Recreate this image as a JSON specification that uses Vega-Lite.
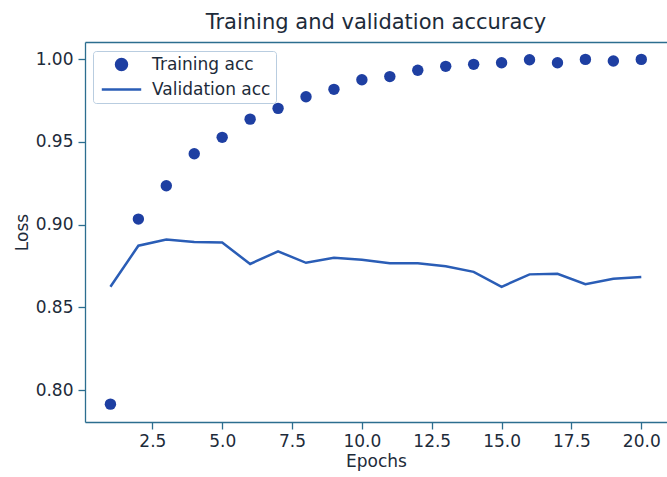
{
  "$schema": "https://vega.github.io/schema/vega-lite/v6.json",
  "autosize": {"type": "none"},
  "padding": {"left": 85, "top": 42, "right": 0, "bottom": 55},
  "width": 582,
  "height": 380,
  "background": "white",
  "config": {
    "view": {"stroke": null},
    "font": "DejaVu Sans",
    "axis": {
      "domainColor": "#2c6e8f",
      "domainWidth": 1.3,
      "tickColor": "#2c6e8f",
      "tickWidth": 1.3,
      "tickSize": 7,
      "grid": false,
      "labelFont": "DejaVu Sans",
      "labelFontSize": 17,
      "labelColor": "#1d2b3a",
      "titleFont": "DejaVu Sans",
      "titleFontSize": 17,
      "titleFontWeight": "normal",
      "titleColor": "#1d2b3a"
    }
  },
  "title": {
    "text": "Training and validation accuracy",
    "font": "DejaVu Sans",
    "fontSize": 21,
    "fontWeight": "normal",
    "color": "#1d2b3a",
    "anchor": "middle",
    "offset": 9
  },
  "datasets": {
    "train": [
      {"epoch": 1, "value": 0.7915, "series": "Training acc"},
      {"epoch": 2, "value": 0.9033, "series": "Training acc"},
      {"epoch": 3, "value": 0.9234, "series": "Training acc"},
      {"epoch": 4, "value": 0.9428, "series": "Training acc"},
      {"epoch": 5, "value": 0.9527, "series": "Training acc"},
      {"epoch": 6, "value": 0.9637, "series": "Training acc"},
      {"epoch": 7, "value": 0.9702, "series": "Training acc"},
      {"epoch": 8, "value": 0.9772, "series": "Training acc"},
      {"epoch": 9, "value": 0.9817, "series": "Training acc"},
      {"epoch": 10, "value": 0.9875, "series": "Training acc"},
      {"epoch": 11, "value": 0.9894, "series": "Training acc"},
      {"epoch": 12, "value": 0.9932, "series": "Training acc"},
      {"epoch": 13, "value": 0.9956, "series": "Training acc"},
      {"epoch": 14, "value": 0.9968, "series": "Training acc"},
      {"epoch": 15, "value": 0.9978, "series": "Training acc"},
      {"epoch": 16, "value": 0.9996, "series": "Training acc"},
      {"epoch": 17, "value": 0.9978, "series": "Training acc"},
      {"epoch": 18, "value": 0.9998, "series": "Training acc"},
      {"epoch": 19, "value": 0.9988, "series": "Training acc"},
      {"epoch": 20, "value": 0.9998, "series": "Training acc"}
    ],
    "val": [
      {"epoch": 1, "value": 0.8624, "series": "Validation acc"},
      {"epoch": 2, "value": 0.8872, "series": "Validation acc"},
      {"epoch": 3, "value": 0.8909, "series": "Validation acc"},
      {"epoch": 4, "value": 0.8895, "series": "Validation acc"},
      {"epoch": 5, "value": 0.8891, "series": "Validation acc"},
      {"epoch": 6, "value": 0.8762, "series": "Validation acc"},
      {"epoch": 7, "value": 0.8838, "series": "Validation acc"},
      {"epoch": 8, "value": 0.8769, "series": "Validation acc"},
      {"epoch": 9, "value": 0.8799, "series": "Validation acc"},
      {"epoch": 10, "value": 0.8787, "series": "Validation acc"},
      {"epoch": 11, "value": 0.8766, "series": "Validation acc"},
      {"epoch": 12, "value": 0.8766, "series": "Validation acc"},
      {"epoch": 13, "value": 0.8748, "series": "Validation acc"},
      {"epoch": 14, "value": 0.8714, "series": "Validation acc"},
      {"epoch": 15, "value": 0.8624, "series": "Validation acc"},
      {"epoch": 16, "value": 0.8699, "series": "Validation acc"},
      {"epoch": 17, "value": 0.8703, "series": "Validation acc"},
      {"epoch": 18, "value": 0.8640, "series": "Validation acc"},
      {"epoch": 19, "value": 0.8673, "series": "Validation acc"},
      {"epoch": 20, "value": 0.8683, "series": "Validation acc"}
    ]
  },
  "layer": [
    {
      "data": {"name": "val"},
      "mark": {"type": "line", "strokeWidth": 2.5, "clip": true},
      "encoding": {
        "x": {
          "field": "epoch", "type": "quantitative",
          "scale": {"domain": [0.09, 20.92], "nice": false, "zero": false},
          "axis": {"orient": "top", "labels": false, "ticks": false, "title": null}
        },
        "y": {
          "field": "value", "type": "quantitative",
          "scale": {"domain": [0.7807, 1.0103], "nice": false, "zero": false},
          "axis": {"values": [0.8, 0.85, 0.9, 0.95, 1.0], "format": ".2f", "title": "Loss", "labelPadding": 5, "titlePadding": 4}
        },
        "color": {
          "field": "series", "type": "nominal",
          "scale": {"domain": ["Training acc", "Validation acc"], "range": ["#1e3fa2", "#2a5db6"]},
          "legend": {
            "title": null,
            "orient": "none",
            "legendX": 8,
            "legendY": 9,
            "padding": 5,
            "strokeColor": "#b9cde0",
            "fillColor": "white",
            "cornerRadius": 3,
            "labelFont": "DejaVu Sans",
            "labelFontSize": 17,
            "labelColor": "#1d2b3a",
            "symbolSize": 110,
            "symbolOffset": 15,
            "labelOffset": 22,
            "rowPadding": 5,
            "encode": {
              "symbols": {
                "update": {
                  "shape": {"signal": "datum.value === 'Training acc' ? 'circle' : 'M-3.6,0H3.6'"},
                  "fill": {"signal": "datum.value === 'Training acc' ? '#1e3fa2' : 'transparent'"},
                  "stroke": {"signal": "datum.value === 'Training acc' ? 'transparent' : '#2a5db6'"},
                  "strokeWidth": {"value": 2.5},
                  "size": {"value": 120},
                  "opacity": {"value": 1}
                }
              }
            }
          }
        }
      }
    },
    {
      "data": {"name": "train"},
      "mark": {"type": "point", "filled": true, "size": 130, "opacity": 1, "clip": true},
      "encoding": {
        "x": {
          "field": "epoch", "type": "quantitative",
          "axis": {"orient": "bottom", "values": [2.5, 5, 7.5, 10, 12.5, 15, 17.5, 20], "format": ".1f", "title": "Epochs", "labelPadding": 4, "titlePadding": 4}
        },
        "y": {"field": "value", "type": "quantitative"},
        "color": {"field": "series", "type": "nominal"}
      }
    }
  ],
  "resolve": {"axis": {"x": "independent"}}
}
